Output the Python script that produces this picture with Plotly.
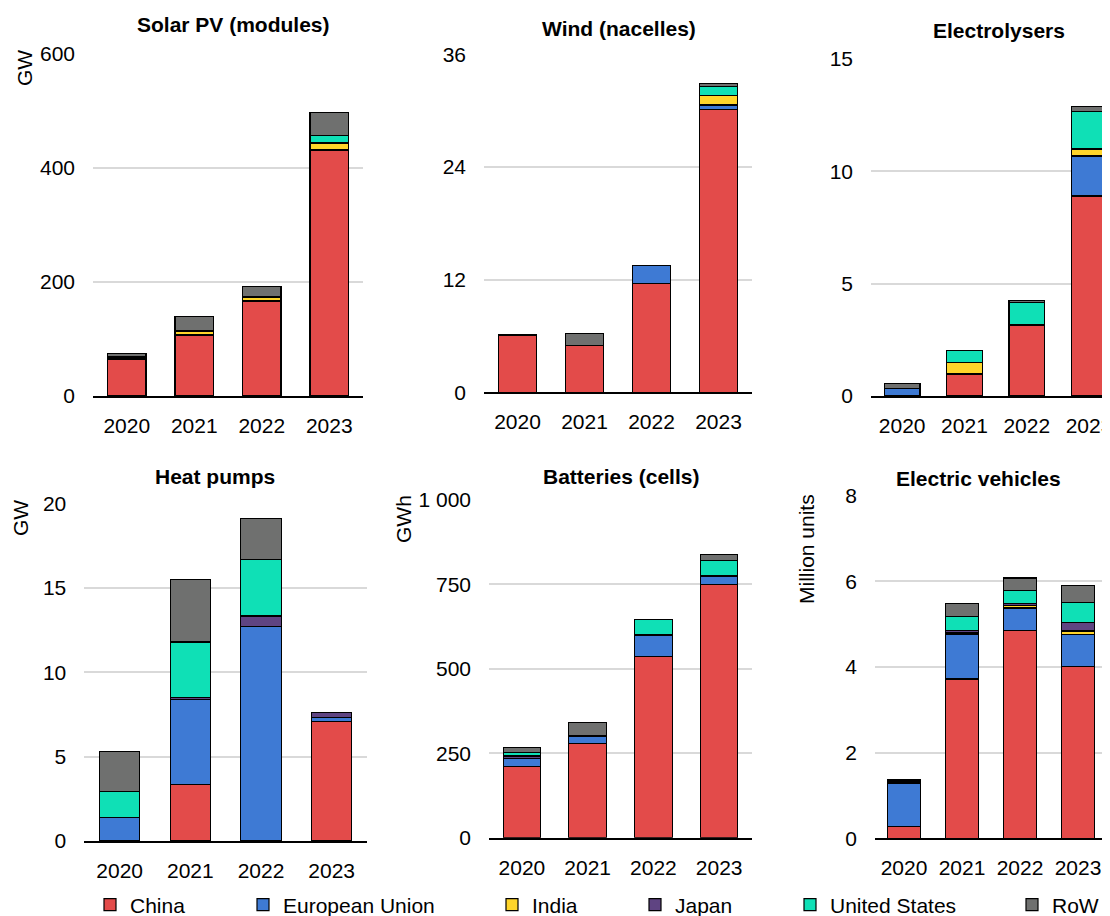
import plotly.graph_objects as go
from plotly.subplots import make_subplots

years = ["2020", "2021", "2022", "2023"]
countries = ["China", "European Union", "India", "Japan", "United States", "RoW"]
colors = ["#E34B4A", "#3E7AD4", "#FFD52A", "#5F4482", "#0FE0B6", "#6F706F"]

# Solar PV (modules), GW
solar_china = [64, 107, 166, 431]
solar_eu = [2, 1, 2, 2]
solar_india = [2, 5, 5, 11]
solar_japan = [1, 1, 1, 1]
solar_us = [0.5, 1, 1, 12]
solar_row = [5.5, 24, 17, 40]

# Wind (nacelles), GW
wind_china = [6.1, 5.0, 11.6, 30.1]
wind_eu = [0, 0, 1.9, 0.5]
wind_india = [0, 0, 0, 1.05]
wind_japan = [0, 0, 0, 0]
wind_us = [0, 0, 0, 0.9]
wind_row = [0, 1.3, 0, 0.35]

# Electrolysers, GW
elec_china = [0, 0.98, 3.15, 8.9]
elec_eu = [0.34, 0, 0.03, 1.78]
elec_india = [0, 0.5, 0, 0.31]
elec_japan = [0, 0, 0, 0]
elec_us = [0, 0.54, 0.97, 1.69]
elec_row = [0.22, 0, 0.09, 0.19]

# Heat pumps, GW
hp_china = [0, 3.36, 0, 7.1]
hp_eu = [1.38, 5.0, 12.7, 0.2]
hp_india = [0, 0, 0, 0]
hp_japan = [0, 0.15, 0.63, 0.3]
hp_us = [1.54, 3.27, 3.32, 0]
hp_row = [2.37, 3.73, 2.47, 0.02]

# Batteries (cells), GWh
bat_china = [210, 278, 536, 750]
bat_eu = [25, 22, 64, 25]
bat_india = [0, 0, 0, 0]
bat_japan = [7, 0, 0, 0]
bat_us = [10, 1, 47, 47]
bat_row = [16, 39, 0, 17]

# Electric vehicles, million units
ev_china = [0.27, 3.72, 4.86, 4.01]
ev_eu = [1.01, 1.05, 0.52, 0.75]
ev_india = [0, 0.04, 0.06, 0.08]
ev_japan = [0.03, 0.05, 0.05, 0.19]
ev_us = [0.02, 0.31, 0.30, 0.47]
ev_row = [0.03, 0.32, 0.29, 0.41]

titles = ["Solar PV (modules)", "Wind (nacelles)", "Electrolysers",
          "Heat pumps", "Batteries (cells)", "Electric vehicles"]
series = [
    [solar_china, solar_eu, solar_india, solar_japan, solar_us, solar_row],
    [wind_china, wind_eu, wind_india, wind_japan, wind_us, wind_row],
    [elec_china, elec_eu, elec_india, elec_japan, elec_us, elec_row],
    [hp_china, hp_eu, hp_india, hp_japan, hp_us, hp_row],
    [bat_china, bat_eu, bat_india, bat_japan, bat_us, bat_row],
    [ev_china, ev_eu, ev_india, ev_japan, ev_us, ev_row],
]
tickvals = [
    [0, 200, 400, 600],
    [0, 12, 24, 36],
    [0, 5, 10, 15],
    [0, 5, 10, 15, 20],
    [0, 250, 500, 750, 1000],
    [0, 2, 4, 6, 8],
]
ticktext = [
    ["0", "200", "400", "600"],
    ["0", "12", "24", "36"],
    ["0", "5", "10", "15"],
    ["0", "5", "10", "15", "20"],
    ["0", "250", "500", "750", "1 000"],
    ["0", "2", "4", "6", "8"],
]
units = ["GW", None, None, "GW", "GWh", "Million units"]

W, H = 1110, 916
OFF = 8  # page body margin: the figure is drawn 8 px right and down
FONT = "Liberation Sans, Arial, sans-serif"


def fx(px):
    return min(max((px - OFF) / W, 0), 1)


def fy(px):
    return min(max(1 - (px - OFF) / H, 0), 1)


# plot areas in screen pixels: left, right, top, bottom
boxes = [
    (93, 363, 54, 396),
    (484, 752, 54.3, 392.3),
    (871, 1118, 59, 396),
    (84.3, 367, 503.3, 841),
    (489, 752, 500, 837.7),
    (875, 1107, 495.7, 838.3),
]
xranges = [[-0.5, 3.5], [-0.5, 3.5], [-0.5, -0.5 + 247 / 62.3],
           [-0.5, 3.5], [-0.5, 3.5], [-0.5, 3.5]]
title_pos = [(233, 24), (619, 28), (999, 31), (215, 476), (621, 477), (979, 478)]
unit_pos = [(24, 68), None, None, (20, 518), (403, 519), (806, 549)]
legend_x = [90, 243, 492, 635, 790, 1012]

fig = make_subplots(rows=2, cols=3)

for p in range(6):
    row, col = p // 3 + 1, p % 3 + 1
    for i, name in enumerate(countries):
        fig.add_trace(
            go.Bar(
                x=years, y=series[p][i], name=name,
                marker=dict(color=colors[i], line=dict(color="#000000", width=1.2)),
                legend="legend" if i == 0 else "legend%d" % (i + 1),
                legendgroup=name, showlegend=(p == 0),
                hoverinfo="skip",
            ),
            row=row, col=col,
        )

layout = {}
for p in range(6):
    sfx = "" if p == 0 else str(p + 1)
    l, r, t, b = boxes[p]
    layout["xaxis" + sfx] = dict(
        domain=[fx(l), fx(r)], type="category", range=xranges[p],
        showline=True, linecolor="#000000", linewidth=1.5,
        showgrid=False, ticks="", ticklabelstandoff=10, automargin=False,
        tickfont=dict(family=FONT, size=21, color="#000000"),
        fixedrange=True,
    )
    layout["yaxis" + sfx] = dict(
        domain=[fy(b), fy(t)], range=[0, tickvals[p][-1]],
        tickvals=tickvals[p], ticktext=ticktext[p],
        showgrid=True, gridcolor="#D9D9D9", gridwidth=1.5,
        zeroline=False, showline=False, ticks="", ticklabelstandoff=17,
        automargin=False,
        tickfont=dict(family=FONT, size=21, color="#000000"),
        fixedrange=True,
    )

annotations = []
for p in range(6):
    x, y = title_pos[p]
    annotations.append(dict(
        text="<b>" + titles[p] + "</b>", x=fx(x), y=fy(y),
        xref="paper", yref="paper", xanchor="center", yanchor="middle",
        showarrow=False, font=dict(family=FONT, size=21, color="#000000"),
    ))
    if units[p]:
        ux, uy = unit_pos[p]
        annotations.append(dict(
            text=units[p], x=fx(ux), y=fy(uy), textangle=-90,
            xref="paper", yref="paper", xanchor="center", yanchor="middle",
            showarrow=False, font=dict(family=FONT, size=21, color="#000000"),
        ))

for i in range(6):
    key = "legend" if i == 0 else "legend%d" % (i + 1)
    layout[key] = dict(
        x=fx(legend_x[i]), y=fy(905), xanchor="left", yanchor="middle",
        orientation="h", bgcolor="rgba(0,0,0,0)", borderwidth=0,
        font=dict(family=FONT, size=21, color="#000000"),
        itemwidth=30, tracegroupgap=0,
    )

fig.update_layout(
    **layout,
    annotations=annotations,
    barmode="stack", bargap=0.43,
    width=W, height=H,
    margin=dict(l=0, r=0, t=0, b=0, autoexpand=False),
    paper_bgcolor="#FFFFFF", plot_bgcolor="#FFFFFF",
    font=dict(family=FONT, size=21, color="#000000"),
)

fig.write_html("out.html")
